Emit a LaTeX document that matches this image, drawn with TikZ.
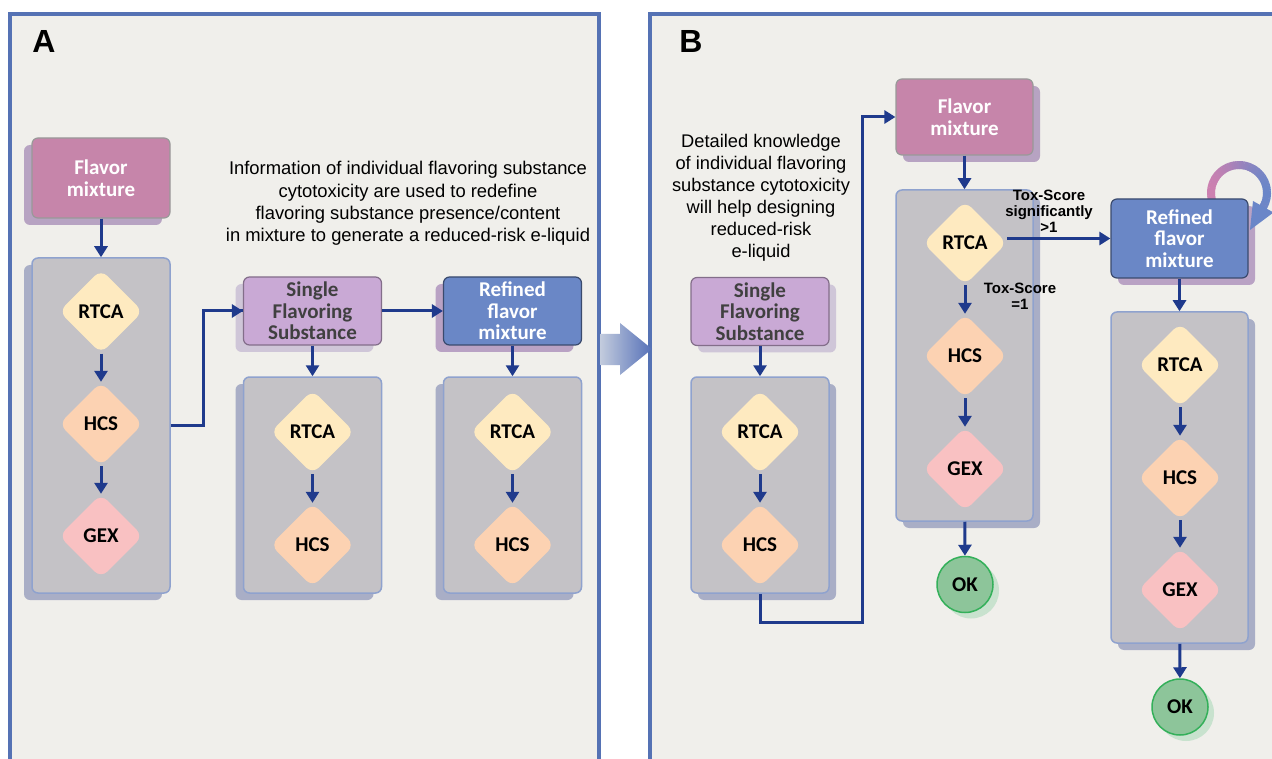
\documentclass[tikz,border=0pt]{standalone}
\usepackage{fontspec}
\setmainfont{Liberation Sans}
\newfontfamily\boxfont{Carlito}
\usetikzlibrary{arrows.meta,shapes.geometric,shadows,calc}
\definecolor{panelbg}{HTML}{F0EFEB}
\definecolor{panelblue}{HTML}{5572B4}
\definecolor{arrblue}{HTML}{1F3A8C}
\definecolor{flav}{HTML}{C685AA}
\definecolor{flavsh}{HTML}{B7A3C2}
\definecolor{single}{HTML}{C9A9D5}
\definecolor{singlesh}{HTML}{CFC6D8}
\definecolor{refined}{HTML}{6A87C6}
\definecolor{refinedsh}{HTML}{B9A2C4}
\definecolor{contfill}{HTML}{C4C2C6}
\definecolor{contborder}{HTML}{8FA2CE}
\definecolor{contsh}{HTML}{A9AEC6}
\definecolor{rtca}{HTML}{FEEAC0}
\definecolor{hcs}{HTML}{FCD2B2}
\definecolor{gex}{HTML}{F9C1C2}
\definecolor{okfill}{HTML}{8DC59A}
\definecolor{okborder}{HTML}{34B05A}
\definecolor{oksh}{HTML}{C8E2CE}
\definecolor{bigL}{HTML}{C2CBDD}
\definecolor{bigR}{HTML}{5570B8}
\definecolor{cpink}{HTML}{CC80B0}
\definecolor{cblue}{HTML}{6A86C8}
\begin{document}
\begin{tikzpicture}[x=1pt,y=-1pt,
  panel/.style={draw=panelblue,line width=3.5pt,fill=panelbg},
  cont/.style={draw=contborder,line width=1.5pt,fill=contfill,rounded corners=6pt,minimum width=138pt,inner sep=0pt},
  shA/.style={drop shadow={shadow xshift=-8pt,shadow yshift=-7pt,fill=#1,opacity=1}},
  shB/.style={drop shadow={shadow xshift=7pt,shadow yshift=-7pt,fill=#1,opacity=1}},
  box/.style={rounded corners=6pt,line width=1.2pt,minimum width=138pt,align=center,inner sep=0pt,
    font=\boxfont\bfseries\fontsize{21}{21.5}\selectfont},
  flavbox/.style={box,fill=flav,draw=black!40,text=white,font=\boxfont\bfseries\fontsize{21}{22}\selectfont},
  singlebox/.style={box,fill=single,draw=black!35!single,text=black!75,minimum height=68pt},
  refbox/.style={box,fill=refined,draw=black!45!refined,text=white},
  dia/.style={diamond,aspect=1,rounded corners=9pt,minimum width=84pt,minimum height=84pt,inner sep=0pt,
    font=\boxfont\bfseries\fontsize{21}{22}\selectfont},
  okc/.style={circle,minimum size=56pt,inner sep=0pt,fill=okfill,draw=okborder,line width=1.5pt,
    font=\boxfont\bfseries\fontsize{21}{22}\selectfont,
    drop shadow={shadow xshift=6pt,shadow yshift=-6pt,fill=oksh,opacity=1}},
  arr/.style={draw=arrblue,line width=3pt,-{Triangle[width=13pt,length=11pt]}},
  desc/.style={align=center,font=\fontsize{18.4}{22.2}\selectfont},
  tox/.style={align=center,font=\bfseries\fontsize{15}{16}\selectfont},
  lbl/.style={font=\bfseries\fontsize{32}{36}\selectfont}]
\useasboundingbox (0,0) rectangle (1272,759);
\clip (0,0) rectangle (1272,759);
% panels
\fill[white] (0,0) rectangle (1272,759);
\draw[panel] (10,14) rectangle (599,790);
\draw[panel] (650,14) rectangle (1300,790);
\node[lbl] (la) at (44,41) {A};
\node[lbl] (lb) at (691,41) {B};
% big arrow between panels
\shade[left color=bigL,right color=bigR] (600.5,334) -- (620,334) -- (620,323) -- (652,349) -- (620,375) -- (620,365) -- (600.5,365) -- cycle;

% ---------------- Panel A ----------------
\node[desc] (dA) at (408,203.5) {Information of individual flavoring substance\\cytotoxicity are used to redefine\\flavoring substance presence/content\\in mixture to generate a reduced-risk e-liquid};
\node[flavbox,minimum height=80pt,shA=flavsh] (fA) at (101,178) {Flavor\\mixture};
\node[cont,minimum height=335pt,shA=contsh] (cA1) at (101,425.5) {};
\node[dia,fill=rtca] (rA1) at (101,311.5) {RTCA};
\node[dia,fill=hcs] (hA1) at (101,424) {HCS};
\node[dia,fill=gex] (gA1) at (101,536) {GEX};

\node[singlebox,shA=singlesh] (sA) at (312.5,311) {Single\\Flavoring\\Substance};
\node[cont,minimum height=216pt,shA=contsh] (cA2) at (312.5,485) {};
\node[dia,fill=rtca] (rA2) at (312.5,432) {RTCA};
\node[dia,fill=hcs] (hA2) at (312.5,545) {HCS};

\node[refbox,minimum height=68pt,shA=refinedsh] (refA) at (512.5,311) {Refined\\flavor\\mixture};
\node[cont,minimum height=216pt,shA=contsh] (cA3) at (512.5,485) {};
\node[dia,fill=rtca] (rA3) at (512.5,432) {RTCA};
\node[dia,fill=hcs] (hA3) at (512.5,545) {HCS};

\draw[arr] (fA) -- (cA1);
\draw[arr] (rA1) -- (hA1);
\draw[arr] (hA1) -- (gA1);
\draw[arr,-] (cA1.east) -- ++(33,0) |- (sA.west);
\draw[arr] ([xshift=-14pt]sA.west) -- (sA.west);
\draw[arr] (sA) -- (refA);
\draw[arr] (sA) -- (cA2);
\draw[arr] (rA2) -- (hA2);
\draw[arr] (refA) -- (cA3);
\draw[arr] (rA3) -- (hA3);

% ---------------- Panel B ----------------
\node[desc,font=\fontsize{18.3}{22}\selectfont] (dB) at (761,198) {Detailed knowledge\\of individual flavoring\\substance cytotoxicity\\will help designing\\reduced-risk\\e-liquid};
\node[singlebox,shB=singlesh] (sB) at (760,311.5) {Single\\Flavoring\\Substance};
\node[cont,minimum height=216pt,shB=contsh] (cB1) at (760,485) {};
\node[dia,fill=rtca] (rB1) at (760,432) {RTCA};
\node[dia,fill=hcs] (hB1) at (760,545) {HCS};

\node[flavbox,minimum width=137pt,minimum height=76pt,shB=flavsh] (fB) at (964.5,117) {Flavor\\mixture};
\node[cont,minimum width=137pt,minimum height=331pt,shB=contsh] (cB2) at (964.5,355.5) {};
\node[dia,fill=rtca] (rB2) at (965,243) {RTCA};
\node[dia,fill=hcs] (hB2) at (965,356) {HCS};
\node[dia,fill=gex] (gB2) at (965,469) {GEX};
\node[okc] (ok1) at (965,584.5) {OK};

% circular arrow (ring with horizontal pink-to-blue gradient)
\foreach \a in {210,205,...,-25}{
  \pgfmathtruncatemacro\p{50+50*cos(\a)}
  \draw[line width=8pt,draw=cblue!\p!cpink] ({1239+28*cos(\a)},{193-28*sin(\a)}) -- ({1239+28*cos(\a-6)},{193-28*sin(\a-6)});
}

\node[refbox,minimum width=137pt,minimum height=79pt,shB=refinedsh] (refB) at (1179.5,238.5) {Refined\\flavor\\mixture};
\fill[cblue] (1273.5,212.5) -- (1250,230) -- (1253,201) -- cycle;
\node[cont,minimum width=137pt,minimum height=331pt,shB=contsh] (cB3) at (1179.5,477.5) {};
\node[dia,fill=rtca] (rB3) at (1180,365) {RTCA};
\node[dia,fill=hcs] (hB3) at (1180,478) {HCS};
\node[dia,fill=gex] (gB3) at (1180,590) {GEX};
\node[okc] (ok2) at (1180,707) {OK};

\node[tox] (t1) at (1049,211) {Tox-Score\\significantly\\>1};
\node[tox] (t2) at (1020,296) {Tox-Score\\=1};

\draw[arr] (sB) -- (cB1);
\draw[arr] (rB1) -- (hB1);
\draw[arr] (cB1.south) -- ++(0,29) -| (862,117) -- (fB.west);
\draw[arr] (fB) -- (cB2);
\draw[arr] (rB2) -- (hB2);
\draw[arr] (hB2) -- (gB2);
\draw[arr] (cB2) -- (ok1);
\draw[arr] (rB2.east |- refB.west) -- (refB.west);
\draw[arr] (refB) -- (cB3);
\draw[arr] (rB3) -- (hB3);
\draw[arr] (hB3) -- (gB3);
\draw[arr] (cB3) -- (ok2);
\end{tikzpicture}
\end{document}
